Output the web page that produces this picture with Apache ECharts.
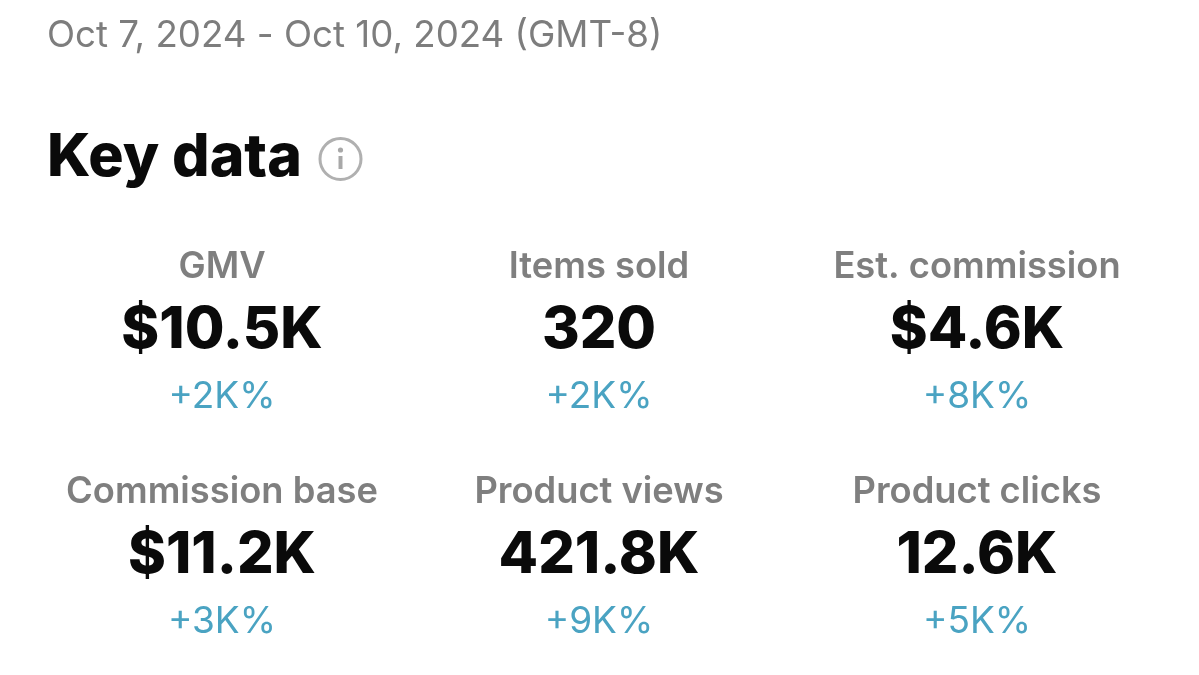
<!DOCTYPE html>
<html><head><meta charset="utf-8">
<style>html,body{margin:0;padding:0;background:#fff}#c{width:1199px;height:675px}</style>
<script src="https://cdn.jsdelivr.net/npm/echarts@6/dist/echarts.min.js"></script>
</head><body><div id="c"></div>
<script>
const dateRange = "Oct 7, 2024 - Oct 10, 2024 (GMT-8)";
const heading = "Key data";
const labels = ["GMV","Items sold","Est. commission","Commission base","Product views","Product clicks"];
const values = ["$10.5K","320","$4.6K","$11.2K","421.8K","12.6K"];
const changes = ["+2K%","+2K%","+8K%","+3K%","+9K%","+5K%"];
const colX = [222,599,977];
const rowY = [267,492];
const font = "Inter, 'Liberation Sans', sans-serif";
const chart = echarts.init(document.getElementById('c'),null,{renderer:'canvas'});
const els = [];
function t(x,y,text,size,weight,fill,align){
  els.push({type:'text',x,y,style:{text,fontFamily:font,fontSize:size,fontWeight:weight,fill,align:align||'center',verticalAlign:'middle'}});
}
t(47,36,dateRange,36.7,400,'#7d7d7d','left');
t(47,158,heading,59,800,'#0a0a0a','left');
els.push({type:'circle',shape:{cx:340.5,cy:159,r:20.5},style:{fill:'none',stroke:'#b0b0b0',lineWidth:3}});
els.push({type:'circle',shape:{cx:340.5,cy:150,r:2.6},style:{fill:'#a8a8a8'}});
els.push({type:'line',shape:{x1:340.5,y1:156,x2:340.5,y2:169},style:{stroke:'#a8a8a8',lineWidth:4}});
labels.forEach((l,i)=>{
  const x=colX[i%3], y=rowY[Math.floor(i/3)];
  t(x,y,l,36.3,600,'#7f7f7f');
  t(x,y+64,values[i],57.5,800,'#0a0a0a');
  t(x,y+130,changes[i],37,400,'#4aa3c2');
});
chart.setOption({animation:false,backgroundColor:'#fff',graphic:{elements:els}});
</script></body></html>
